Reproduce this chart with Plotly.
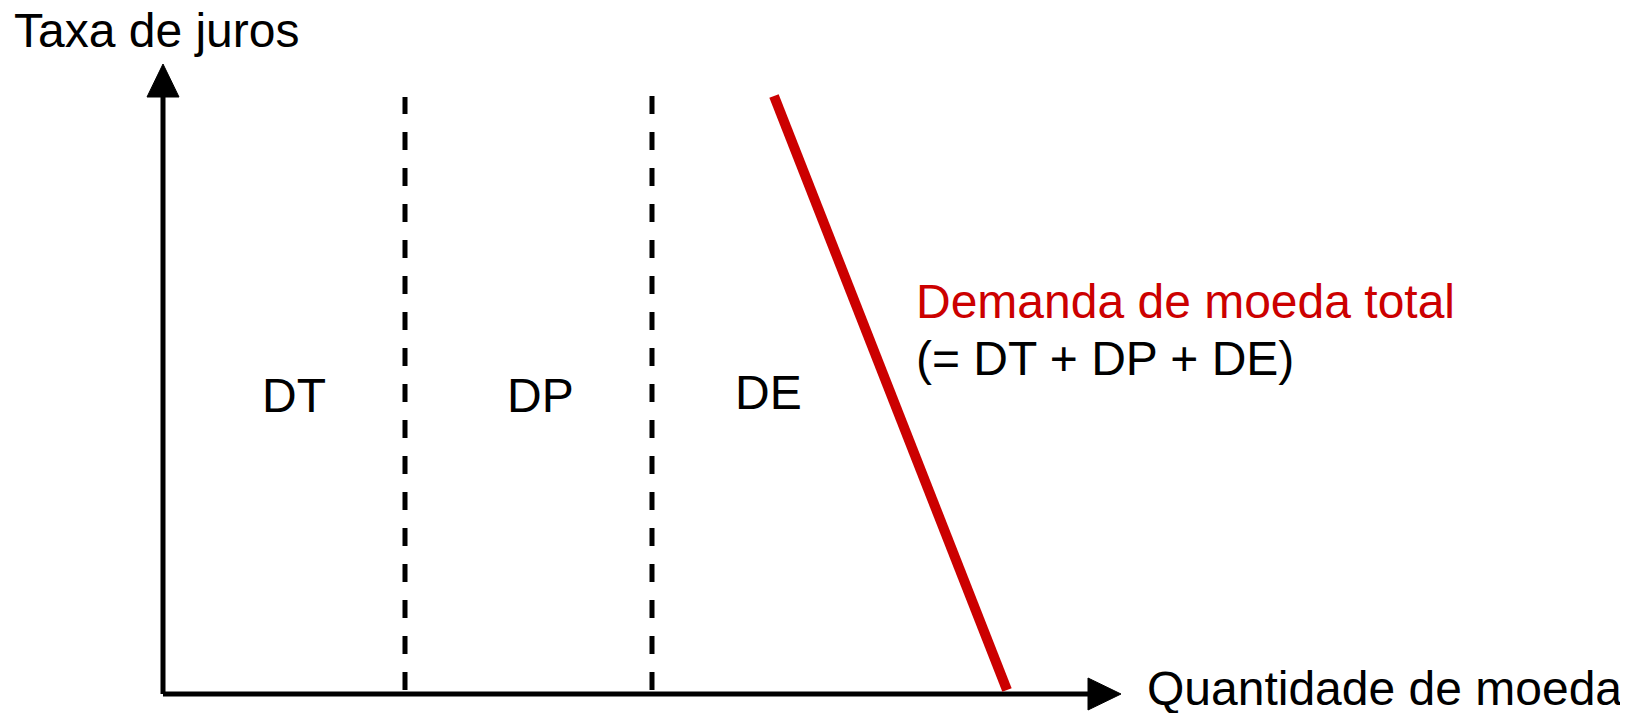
import plotly.graph_objects as go

# units: 1 = 100 px, origin at the axes corner
eixo_x_fim = 9.58      # tip of the "Quantidade de moeda" arrow
eixo_y_fim = 6.30      # tip of the "Taxa de juros" arrow
seta_comp = 0.33       # arrowhead length
seta_meia = 0.16       # arrowhead half width

limite_dt = 2.42       # DT | DP boundary
topo_dt = 5.97
limite_dp = 4.89       # DP | DE boundary
topo_dp = 6.09

demanda_q = [6.11, 8.44]
demanda_i = [5.98, 0.04]

rotulos = ["DT", "DP", "DE"]
rotulos_x = [1.31, 3.77, 6.05]
rotulos_y = [2.99, 2.99, 3.02]

VERMELHO = "rgb(204,0,0)"
FONTE = "Liberation Sans, Arial, sans-serif"
TAM = 48

fig = go.Figure()

# eixos
fig.add_trace(go.Scatter(x=[0, eixo_x_fim - seta_comp], y=[0, 0], mode="lines",
                         line=dict(color="black", width=5)))
fig.add_trace(go.Scatter(x=[0, 0], y=[0, eixo_y_fim - seta_comp], mode="lines",
                         line=dict(color="black", width=5)))
# pontas das setas
fig.add_trace(go.Scatter(
    x=[eixo_x_fim - seta_comp, eixo_x_fim, eixo_x_fim - seta_comp, eixo_x_fim - seta_comp],
    y=[-seta_meia, 0, seta_meia, -seta_meia],
    mode="lines", fill="toself", fillcolor="black", line=dict(color="black", width=1)))
fig.add_trace(go.Scatter(
    x=[-seta_meia, 0, seta_meia, -seta_meia],
    y=[eixo_y_fim - seta_comp, eixo_y_fim, eixo_y_fim - seta_comp, eixo_y_fim - seta_comp],
    mode="lines", fill="toself", fillcolor="black", line=dict(color="black", width=1)))

# linhas tracejadas
for lx, topo in [(limite_dt, topo_dt), (limite_dp, topo_dp)]:
    fig.add_trace(go.Scatter(x=[lx, lx], y=[0.04, topo], mode="lines",
                             line=dict(color="black", width=5, dash="18px,18px")))

# demanda total
fig.add_trace(go.Scatter(x=demanda_q, y=demanda_i, mode="lines",
                         line=dict(color=VERMELHO, width=10)))

for r, rx, ry in zip(rotulos, rotulos_x, rotulos_y):
    fig.add_annotation(x=rx, y=ry, text=r, showarrow=False,
                       font=dict(size=TAM, color="black"))

fig.add_annotation(x=-1.51, y=6.64, text="Taxa de juros", showarrow=False,
                   xanchor="left", font=dict(size=TAM, color="black"))
fig.add_annotation(x=9.82, y=0.06, text="Quantidade de moeda", showarrow=False,
                   xanchor="left", font=dict(size=TAM, color="black"))
fig.add_annotation(x=7.51, y=3.93, text="Demanda de moeda total", showarrow=False,
                   xanchor="left", font=dict(size=TAM, color=VERMELHO))
fig.add_annotation(x=7.51, y=3.36, text="(= DT + DP + DE)", showarrow=False,
                   xanchor="left", font=dict(size=TAM, color="black"))

# the page body adds an 8 px margin, so the figure is 8 px smaller
fig.update_layout(
    width=1620, height=705,
    margin=dict(l=0, r=0, t=0, b=0),
    paper_bgcolor="white", plot_bgcolor="white",
    showlegend=False,
    font=dict(family=FONTE),
    xaxis=dict(range=[-1.55, 14.65], visible=False, fixedrange=True),
    yaxis=dict(range=[-0.19, 6.86], visible=False, fixedrange=True),
)

fig.write_html("out.html", config=dict(displayModeBar=False))
